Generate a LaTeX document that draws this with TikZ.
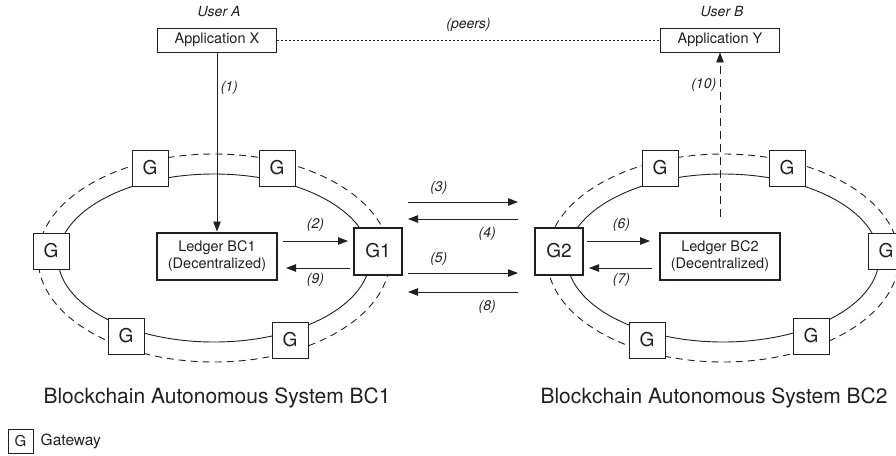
\documentclass[tikz,border=0pt]{standalone}
\usepackage{fontspec}
\setmainfont{TeX Gyre Heros}
\usetikzlibrary{arrows.meta,positioning}
\definecolor{ink}{HTML}{231F20}

\begin{document}
\begin{tikzpicture}[x=1pt, y=-1pt, color=ink, line width=0.9pt,
  >={Triangle[length=10pt,width=7.5pt]},
  gw/.style={draw, fill=white, minimum width=36pt, minimum height=36pt, inner sep=0pt,
    font=\fontsize{19}{19}\selectfont},
  bgw/.style={gw, line width=2pt, minimum width=48pt, minimum height=47pt},
  ledger/.style={draw, fill=white, line width=2pt, minimum width=120pt, minimum height=47pt,
    align=center, font=\fontsize{14.5}{17}\selectfont},
  app/.style={draw, fill=white, minimum width=119pt, minimum height=24pt, inner sep=0pt,
    font=\fontsize{14.5}{16}\selectfont},
  num/.style={font=\fontsize{14}{16}\selectfont\itshape},
  title/.style={font=\fontsize{21}{24}\selectfont}]

  \useasboundingbox (0,0) rectangle (896,455);

  \newcommand\CA{214};  % centre of BC1
  \newcommand\CB{723};  % centre of BC2

  % rings
  \draw (\CA,258) ellipse [x radius=156, y radius=84];
  \draw[dash pattern=on 7pt off 5pt] (\CA,258) ellipse [x radius=176, y radius=104];
  \draw (\CB,258) ellipse [x radius=156, y radius=84];
  \draw[dash pattern=on 7pt off 5pt] (\CB,258) ellipse [x radius=176, y radius=104];

  % gateways, BC2 is BC1 mirrored
  \foreach \px/\py [count=\i] in {51/251, 150/168, 277/168, 126/336, 290/340}{
    \node[gw] (ga\i) at (\px,\py) {G};
    \node[gw] (gb\i) at (937-\px,\py) {G};
  }
  \node[bgw] (g1) at (378,251) {G1};
  \node[bgw] (g2) at (559,251) {G2};

  \node[ledger] (ledgerA) at (217,256) {Ledger BC1\\(Decentralized)};
  \node[ledger] (ledgerB) at (720,256) {Ledger BC2\\(Decentralized)};

  \node[app] (appX) at (217,40) {Application X};
  \node[app] (appY) at (720,40) {Application Y};
  \node[num] (userA) at (219,12) {User A};
  \node[num] (userB) at (722,12) {User B};

  \draw[dash pattern=on 2pt off 2pt] (appX) -- node[num, above=5pt]{(peers)} (appY); % X..Y

  \draw[->] (appX) -- node[num, right, pos=0.2]{(1)} (ledgerA); % X->BC1
  \coordinate (ret) at (720,217);
  \draw[->, dash pattern=on 8pt off 5pt] (ret) -- node[num, left, pos=0.8]{(10)} (appY); % BC2->Y

  \draw[->, shorten <=5pt, shorten >=5pt] ([yshift=15pt]ledgerA.east) --
    node[num, above=5.5pt]{(2)} ([yshift=10pt]g1.west); % BC1->G1
  \draw[->, shorten <=3pt, shorten >=8pt] ([yshift=-17pt]g1.west) --
    node[num, below=1.5pt]{(9)} ([yshift=-12pt]ledgerA.east); % G1->BC1

  \draw[->, shorten <=3pt, shorten >=9pt] ([yshift=10pt]g2.east) --
    node[num, above=5.5pt]{(6)} ([yshift=15pt]ledgerB.west); % G2->BC2
  \draw[->, shorten <=7pt, shorten >=5pt] ([yshift=-12pt]ledgerB.west) --
    node[num, below=1.5pt]{(7)} ([yshift=-17pt]g2.east); % BC2->G2

  % between the gateways
  \coordinate (s3) at (408,202); \coordinate (t3) at (518,202);
  \coordinate (s4) at (518,219); \coordinate (t4) at (408,219);
  \coordinate (s5) at (408,273); \coordinate (t5) at (518,273);
  \coordinate (s8) at (518,292); \coordinate (t8) at (408,292);
  \draw[->] (s3) -- node[num, above=4pt, pos=0.28]{(3)} (t3); % G1->G2
  \draw[->] (s4) -- node[num, below=5pt, pos=0.28]{(4)} (t4); % G2->G1
  \draw[->] (s5) -- node[num, above=4pt, pos=0.28]{(5)} (t5); % G1->G2
  \draw[->] (s8) -- node[num, below=4.5pt, pos=0.28]{(8)} (t8); % G2->G1

  \node[title] (bc1) at (217,398) {Blockchain Autonomous System BC1};
  \node[title] (bc2) at (714,398) {Blockchain Autonomous System BC2};

  % key
  \node[gw, minimum width=25pt, minimum height=24pt, font=\fontsize{15}{15}\selectfont]
    (key) at (20.5,441) {G};
  \node[right=3.5pt of key, font=\fontsize{15.5}{17}\selectfont] (keytext) {Gateway};
\end{tikzpicture}
\end{document}
